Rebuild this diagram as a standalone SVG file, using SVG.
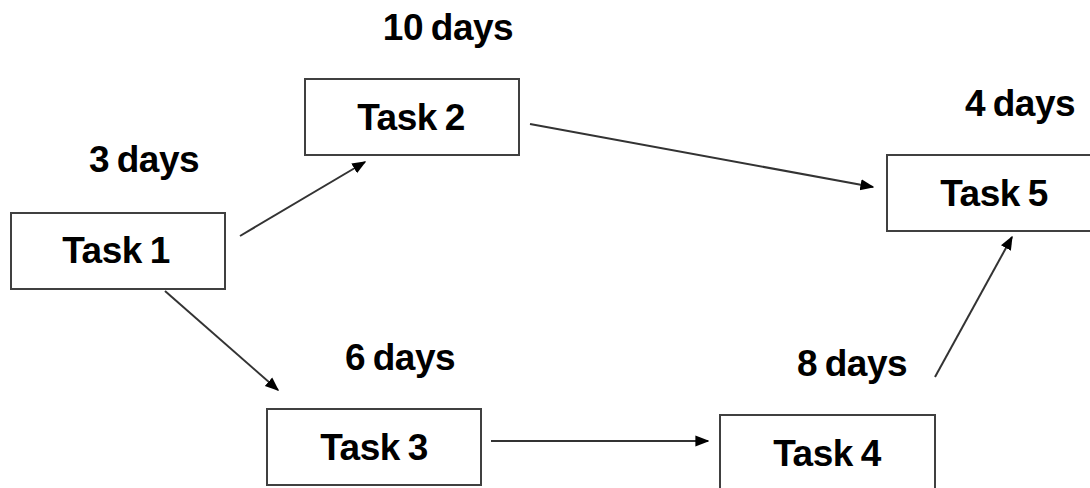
<svg xmlns="http://www.w3.org/2000/svg" width="1090" height="488" viewBox="0 0 1090 488">
<style>
.box{fill:#fff;stroke:#404040;stroke-width:2}
.t{font-family:"Liberation Sans",Arial,sans-serif;font-weight:bold;font-size:37px;letter-spacing:-0.5px;word-spacing:-2px;fill:#000;text-anchor:middle}
.c{stroke:#333;stroke-width:2;fill:none;marker-end:url(#ah)}
</style>
<defs>
<marker id="ah" viewBox="0 0 10 10" refX="9" refY="5" markerWidth="7" markerHeight="7" markerUnits="strokeWidth" orient="auto">
<path d="M0,1 L10,5 L0,9 Z" fill="#000"/>
</marker>
</defs>
<rect width="1090" height="488" fill="#fff"/>
<g id="connectors">
<line class="c" x1="240" y1="236" x2="365" y2="162"/>
<line class="c" x1="530" y1="124" x2="873" y2="187"/>
<line class="c" x1="165" y1="291" x2="278" y2="390"/>
<line class="c" x1="491" y1="441" x2="708" y2="441"/>
<line class="c" x1="935" y1="377" x2="1012" y2="237"/>
</g>
<g id="task1"><rect class="box" x="11" y="213" width="214" height="76"/><text class="t" x="116" y="263">Task 1</text></g>
<g id="task2"><rect class="box" x="305" y="79" width="214" height="76"/><text class="t" x="411" y="130">Task 2</text></g>
<g id="task3"><rect class="box" x="267" y="409" width="214" height="76"/><text class="t" x="374" y="460">Task 3</text></g>
<g id="task4"><rect class="box" x="720" y="415" width="215" height="80"/><text class="t" x="827" y="466">Task 4</text></g>
<g id="task5"><rect class="box" x="887" y="155" width="210" height="76"/><text class="t" x="994" y="206">Task 5</text></g>
<g id="labels">
<text class="t" x="448" y="40">10 days</text>
<text class="t" x="144" y="172">3 days</text>
<text class="t" x="1020" y="116">4 days</text>
<text class="t" x="400" y="370">6 days</text>
<text class="t" x="852" y="376">8 days</text>
</g>
</svg>
